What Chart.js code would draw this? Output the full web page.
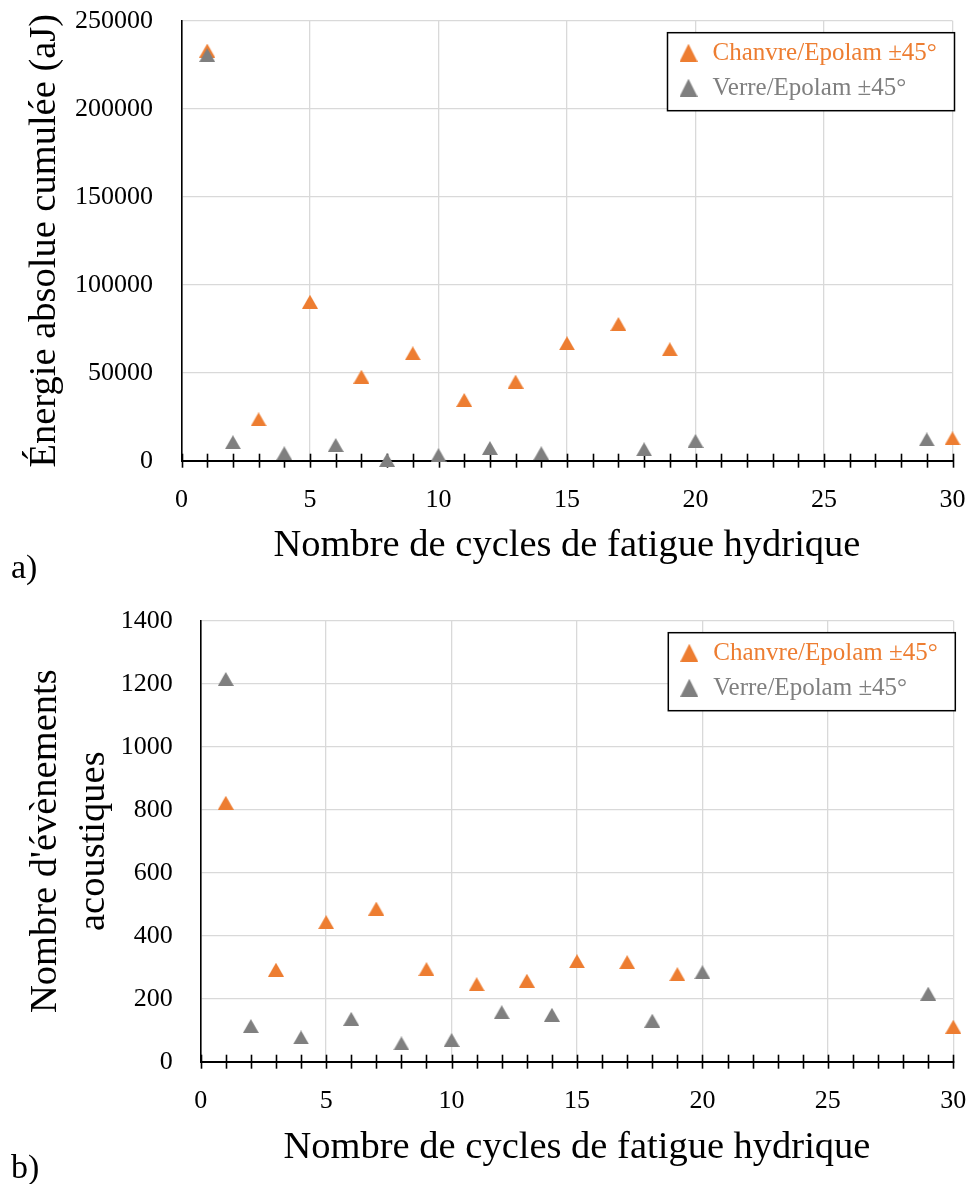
<!DOCTYPE html>
<html lang="fr">
<head>
<meta charset="utf-8">
<title>Émission acoustique - fatigue hydrique</title>
<script src="https://cdn.jsdelivr.net/npm/chart.js@4.4.0/dist/chart.umd.min.js"></script>
<style>
  body { margin: 0; background: #fff; width: 970px; height: 1184px; position: relative; overflow: hidden; }
  canvas { position: absolute; left: 0; }
  #chartA { top: 0; }
  #chartB { top: 590px; }
  .panel { position: absolute; left: 11px; font-family: "Liberation Serif", serif; font-size: 34px; color: #000; line-height: 1; }
</style>
</head>
<body>
<canvas id="chartA" width="970" height="590"></canvas>
<canvas id="chartB" width="970" height="594"></canvas>
<div class="panel" style="top:550px">a)</div>
<div class="panel" style="top:1150px">b)</div>
<script>
// cycles où chaque matériau a été mesuré
const cyclesChanvre = [1, 3, 5, 7, 9, 11, 13, 15, 17, 19, 30];
const cyclesVerre = [1, 2, 4, 6, 8, 10, 12, 14, 18, 20, 29];

// énergie absolue cumulée (aJ)
const energieChanvre = [233000, 23500, 90300, 47700, 61000, 34500, 44900, 66700, 77700, 63300, 12700];
const energieVerre = [230500, 10500, 4200, 8900, 400, 3200, 7200, 4200, 6500, 11200, 12100];

// nombre d'évènements acoustiques
const evenementsChanvre = [822, 292, 443, 486, 294, 246, 257, 319, 316, 278, 111];
const evenementsVerre = [1215, 113, 77, 136, 58, 69, 157, 149, 130, 284, 216];

const labelChanvre = "Chanvre/Epolam ±45°";
const labelVerre = "Verre/Epolam ±45°";
const orange = "#ED7D31";
const gris = "#7F7F7F";
const police = "'Liberation Serif', serif";

// petit triangle dessiné dans un canvas, centré sur le point
function triangle(couleur, w, h) {
  const c = document.createElement("canvas");
  c.width = w;
  c.height = h;
  const ctx = c.getContext("2d");
  ctx.fillStyle = couleur;
  ctx.beginPath();
  ctx.moveTo(w / 2, 0);
  ctx.lineTo(w, h);
  ctx.lineTo(0, h);
  ctx.closePath();
  ctx.fill();
  return c;
}

function points(xs, ys) {
  return xs.map((x, i) => ({ x: x, y: ys[i] }));
}

// graduations de l'axe X qui traversent l'axe, à chaque cycle
const graduations = {
  id: "graduations",
  beforeDatasetsDraw(chart) {
    const x = chart.scales.x;
    const y0 = chart.chartArea.bottom;
    const ctx = chart.ctx;
    ctx.save();
    ctx.strokeStyle = "#000";
    ctx.lineWidth = 1.6;
    for (let v = x.min; v <= x.max; v++) {
      const px = Math.round(x.getPixelForValue(v)) + 0.5;
      ctx.beginPath();
      ctx.moveTo(px, y0 - 7);
      ctx.lineTo(px, y0 + 7);
      ctx.stroke();
    }
    ctx.restore();
  },
};

// légende encadrée dans le coin haut droit
const legendeCadre = {
  id: "legendeCadre",
  afterDraw(chart) {
    const ctx = chart.ctx;
    const area = chart.chartArea;
    const w = 287, h = 78;
    const left = area.right + 2 - w;
    const top = area.top + 12;
    ctx.save();
    ctx.fillStyle = "#fff";
    ctx.fillRect(left, top, w, h);
    ctx.strokeStyle = "#000";
    ctx.lineWidth = 1.5;
    ctx.strokeRect(left, top, w, h);
    ctx.font = "25px " + police;
    ctx.textBaseline = "middle";
    chart.data.datasets.forEach((ds, i) => {
      const cy = top + 20 + i * 35;
      const tri = triangle(ds.backgroundColor, 18, 18);
      ctx.drawImage(tri, left + 12, cy - 9);
      ctx.fillStyle = ds.backgroundColor;
      ctx.fillText(ds.label, left + 45, cy + 1);
    });
    ctx.restore();
  },
};

function creerGraphique(id, donneesChanvre, donneesVerre, opts) {
  return new Chart(document.getElementById(id), {
    type: "scatter",
    data: {
      datasets: [
        {
          label: labelChanvre,
          data: points(cyclesChanvre, donneesChanvre),
          backgroundColor: orange,
          borderColor: orange,
          pointStyle: triangle(orange, 16, 14),
          pointRadius: 8,
          clip: false,
          order: 1,
        },
        {
          label: labelVerre,
          data: points(cyclesVerre, donneesVerre),
          backgroundColor: gris,
          borderColor: gris,
          pointStyle: triangle(gris, 16, 14),
          pointRadius: 8,
          clip: false,
          order: 0,
        },
      ],
    },
    options: {
      responsive: false,
      animation: false,
      layout: { padding: opts.padding },
      plugins: {
        legend: { display: false },
        tooltip: { enabled: false },
      },
      scales: {
        x: {
          type: "linear",
          min: 0,
          max: 30,
          afterFit: (s) => {
            s.height = opts.hauteurX;
            s.paddingLeft = 0;
            s.paddingRight = 0;
          },
          ticks: {
            stepSize: 5,
            padding: 24,
            color: "#000",
            font: { family: police, size: 26 },
            callback: (v) => String(v),
          },
          grid: { color: "#D9D9D9", lineWidth: 1.3, drawTicks: false },
          border: { color: "#000", width: 2 },
          title: {
            display: true,
            text: "Nombre de cycles de fatigue hydrique",
            color: "#000",
            font: { family: police, size: 38.5, lineHeight: 1.2 },
            padding: { top: 0, bottom: 0 },
          },
        },
        y: {
          min: 0,
          max: opts.maxY,
          afterFit: (s) => {
            s.width = opts.largeurY;
            s.paddingTop = 0;
            s.paddingBottom = 0;
          },
          ticks: {
            stepSize: opts.pasY,
            padding: opts.paddingTicksY,
            color: "#000",
            font: { family: police, size: 26 },
            callback: (v) => String(v),
          },
          grid: { color: "#D9D9D9", lineWidth: 1.3, drawTicks: false },
          border: { color: "#000", width: 1.6 },
          title: {
            display: true,
            text: opts.titreY,
            color: "#000",
            font: { family: police, size: 38.5, lineHeight: opts.interligne },
            padding: { top: opts.paddingTitreY, bottom: 0 },
          },
        },
      },
    },
    plugins: [graduations, legendeCadre],
  });
}

creerGraphique("chartA", energieChanvre, energieVerre, {
  padding: { top: 20.7, right: 17.5, bottom: 20.8, left: 0 },
  hauteurX: 108.5,
  largeurY: 181.5,
  maxY: 250000,
  pasY: 50000,
  paddingTicksY: 28.5,
  titreY: "Énergie absolue cumulée (aJ)",
  interligne: 1.2,
  paddingTitreY: 22,
});

creerGraphique("chartB", evenementsChanvre, evenementsVerre, {
  padding: { top: 30.7, right: 16.7, bottom: 12.8, left: 0 },
  hauteurX: 109.5,
  largeurY: 200.7,
  maxY: 1400,
  pasY: 200,
  paddingTicksY: 28,
  titreY: ["Nombre d'évènements", "acoustiques"],
  interligne: 1.25,
  paddingTitreY: 21.5,
});
</script>
</body>
</html>
